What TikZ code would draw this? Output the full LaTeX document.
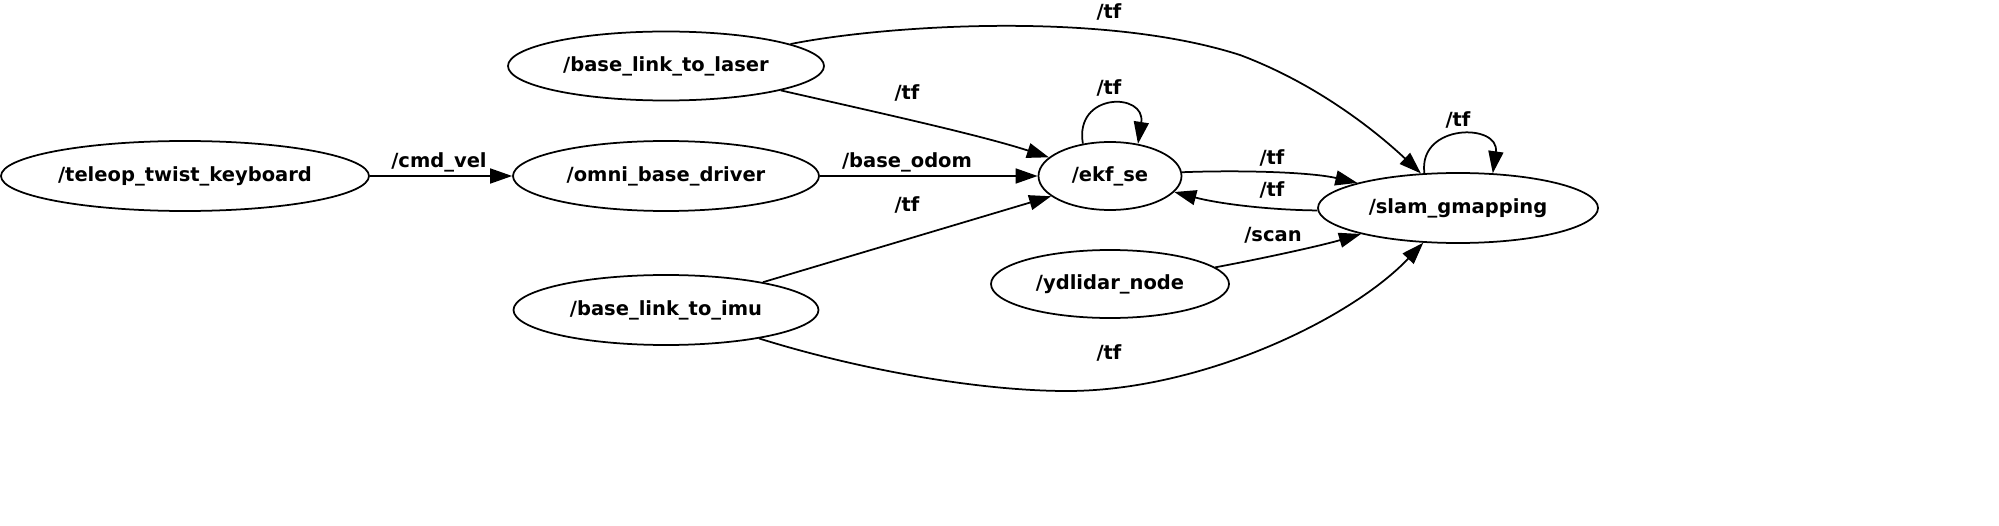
\documentclass[tikz,border=0pt]{standalone}
\usepackage{fontspec}
\setmainfont{DejaVu Sans}
\usetikzlibrary{shapes.geometric,arrows.meta}
\begin{document}
\begin{tikzpicture}[x=0.4pt,y=-0.4pt,
  rosnode/.style={draw,ellipse,line width=0.7pt,inner sep=0pt,font=\fontsize{7.8}{9}\selectfont\bfseries},
  lbl/.style={font=\fontsize{7.8}{9}\selectfont\bfseries,inner sep=0pt},
  conn/.style={line width=0.7pt,-{Triangle[length=8.8pt,width=6pt]}}]
\useasboundingbox (0,0) rectangle (1999,526);
% nodes
\node[rosnode,minimum width=147.2pt,minimum height=28pt] (teleop) at (185,176) {/teleop\_twist\_keyboard};
\node[rosnode,minimum width=122.4pt,minimum height=28pt] (omni) at (666,176) {/omni\_base\_driver};
\node[rosnode,minimum width=126.4pt,minimum height=27.6pt] (laser) at (666,66) {/base\_link\_to\_laser};
\node[rosnode,minimum width=122pt,minimum height=28pt] (imu) at (666,310) {/base\_link\_to\_imu};
\node[rosnode,minimum width=57.2pt,minimum height=27.2pt] (ekf) at (1110,176) {/ekf\_se};
\node[rosnode,minimum width=112pt,minimum height=28pt] (slam) at (1458,208) {/slam\_gmapping};
\node[rosnode,minimum width=95.2pt,minimum height=27.2pt] (ydl) at (1110,284) {/ydlidar\_node};
% edges
\draw[conn] (teleop.east) -- (omni.west) node[lbl] (l1) at (439,162) {/cmd\_vel};
\draw[conn] (omni.east) -- (ekf.west) node[lbl] (l2) at (907,162) {/base\_odom};
\draw[conn] (laser.-12.7) .. controls (880,113) and (980,135) .. (ekf.163.8) node[lbl] (l3) at (907,93) {/tf};
\draw[conn] (imu.16.3) -- (ekf.-161.3) node[lbl] (l4) at (907,205) {/tf};
\draw[conn] (laser.10.4) .. controls (880,26) and (1100,10) .. (1240,55) .. controls (1320,85) and (1380,135) .. (slam.137.4) node[lbl] (l5) at (1109,12) {/tf};
\draw[conn] (imu.-17.9) .. controls (860,370) and (980,391) .. (1067,391) .. controls (1200,391) and (1350,320) .. (slam.225) node[lbl] (l6) at (1109,353) {/tf};
\draw[conn] (ekf.130.5) .. controls (1074,92) and (1146,92) .. (ekf.49.7) node[lbl] (l7) at (1109,88) {/tf};
\draw[conn] (slam.134.2) .. controls (1418,123) and (1500,123) .. (slam.45.8) node[lbl] (l8) at (1458,120) {/tf};
\draw[conn] (ekf.3) .. controls (1240,170) and (1310,172) .. (slam.166.8) node[lbl] (l9) at (1272,158) {/tf};
\draw[conn] (slam.181.2) .. controls (1270,210) and (1220,204) .. (ekf.-14.9) node[lbl] (l10) at (1272,190) {/tf};
\draw[conn] (ydl.9) .. controls (1260,259) and (1320,246) .. (slam.-165.1) node[lbl] (l11) at (1273,235) {/scan};
\end{tikzpicture}
\end{document}
